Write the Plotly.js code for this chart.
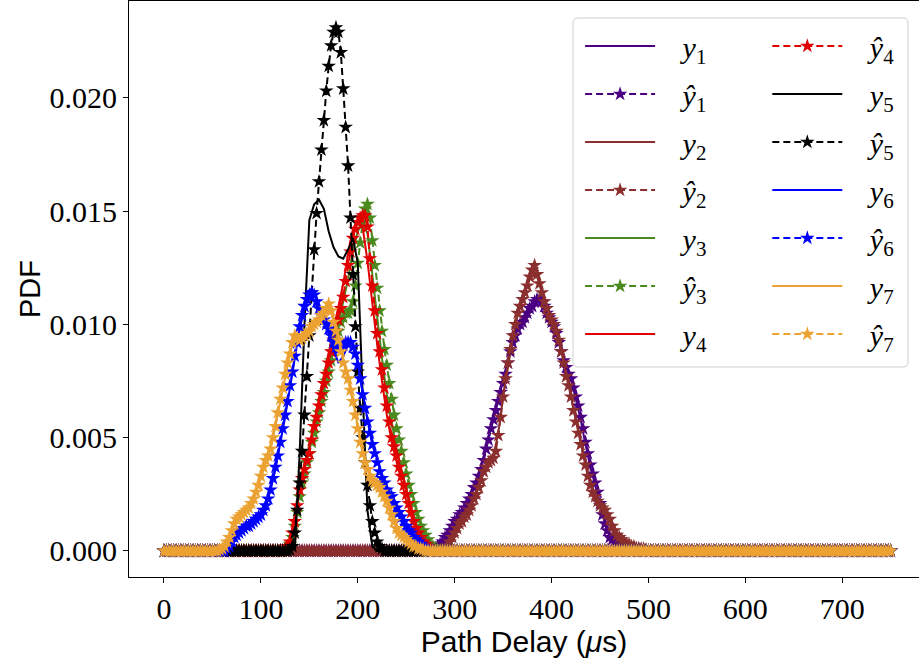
<!DOCTYPE html>
<html>
<head>
<meta charset="utf-8">
<script src="https://cdn.plot.ly/plotly-3.0.1.min.js"></script>
<style>html,body{margin:0;padding:0;background:#fff;}#chart{width:919px;height:659px;}</style>
</head>
<body>
<div id="chart"></div>
<script>
// Path delay grid (µs) for the measured densities
const xGrid = [
  0,5,10,15,20,25,30,35,40,45,
  50,55,60,65,70,75,80,85,90,95,
  100,105,110,115,120,125,130,135,140,145,
  150,155,160,165,170,175,180,185,190,195,
  200,205,210,215,220,225,230,235,240,245,
  250,255,260,265,270,275,280,285,290,295,
  300,305,310,315,320,325,330,335,340,345,
  350,355,360,365,370,375,380,385,390,395,
  400,405,410,415,420,425,430,435,440,445,
  450,455,460,465,470,475,480,485,490,495,
  500,505,510,515,520,525,530,535,540,545,
  550,555,560,565,570,575,580,585,590,595,
  600,605,610,615,620,625,630,635,640,645,
  650,655,660,665,670,675,680,685,690,695,
  700,705,710,715,720,725,730,735,740,745,
  750
];
// Finer path delay grid (µs) for the predicted densities
const xFine = [
  0,2.5,5,7.5,10,12.5,15,17.5,20,22.5,25,27.5,30,32.5,35,37.5,40,42.5,45,47.5,
  50,52.5,55,57.5,60,62.5,65,67.5,70,72.5,75,77.5,80,82.5,85,87.5,90,92.5,95,97.5,
  100,102.5,105,107.5,110,112.5,115,117.5,120,122.5,125,127.5,130,132.5,135,137.5,140,142.5,145,147.5,
  150,152.5,155,157.5,160,162.5,165,167.5,170,172.5,175,177.5,180,182.5,185,187.5,190,192.5,195,197.5,
  200,202.5,205,207.5,210,212.5,215,217.5,220,222.5,225,227.5,230,232.5,235,237.5,240,242.5,245,247.5,
  250,252.5,255,257.5,260,262.5,265,267.5,270,272.5,275,277.5,280,282.5,285,287.5,290,292.5,295,297.5,
  300,302.5,305,307.5,310,312.5,315,317.5,320,322.5,325,327.5,330,332.5,335,337.5,340,342.5,345,347.5,
  350,352.5,355,357.5,360,362.5,365,367.5,370,372.5,375,377.5,380,382.5,385,387.5,390,392.5,395,397.5,
  400,402.5,405,407.5,410,412.5,415,417.5,420,422.5,425,427.5,430,432.5,435,437.5,440,442.5,445,447.5,
  450,452.5,455,457.5,460,462.5,465,467.5,470,472.5,475,477.5,480,482.5,485,487.5,490,492.5,495,497.5,
  500,502.5,505,507.5,510,512.5,515,517.5,520,522.5,525,527.5,530,532.5,535,537.5,540,542.5,545,547.5,
  550,552.5,555,557.5,560,562.5,565,567.5,570,572.5,575,577.5,580,582.5,585,587.5,590,592.5,595,597.5,
  600,602.5,605,607.5,610,612.5,615,617.5,620,622.5,625,627.5,630,632.5,635,637.5,640,642.5,645,647.5,
  650,652.5,655,657.5,660,662.5,665,667.5,670,672.5,675,677.5,680,682.5,685,687.5,690,692.5,695,697.5,
  700,702.5,705,707.5,710,712.5,715,717.5,720,722.5,725,727.5,730,732.5,735,737.5,740,742.5,745,747.5,
  750
];

// Measured densities y1..y7 (on xGrid)
const y1 = [
  0,0,0,0,0,0,0,0,0,0,
  0,0,0,0,0,0,0,0,0,0,
  0,0,0,0,0,0,0,0,0,0,
  0,0,0,0,0,0,0,0,0,0,
  0,0,0,0,0,0,0,0,0,0,
  0,0,0,0,0,0,0.0001,0.0003,0.0006,0.0009,
  0.0012,0.0016,0.0019,0.0023,0.0028,0.0034,0.0041,0.005,0.0059,0.0067,
  0.0075,0.0084,0.0092,0.0098,0.0102,0.0106,0.0109,0.011,0.0109,0.0104,
  0.01,0.0095,0.0088,0.0082,0.0076,0.0067,0.0058,0.0047,0.0037,0.0029,
  0.002,0.0012,0.0007,0.0004,0.0003,0.0002,0.0001,0.0001,0,0,
  0,0,0,0,0,0,0,0,0,0,
  0,0,0,0,0,0,0,0,0,0,
  0,0,0,0,0,0,0,0,0,0,
  0,0,0,0,0,0,0,0,0,0,
  0,0,0,0,0,0,0,0,0,0,
  0
];
const y2 = [
  0,0,0,0,0,0,0,0,0,0,
  0,0,0,0,0,0,0,0,0,0,
  0,0,0,0,0,0,0,0,0,0,
  0,0,0,0,0,0,0,0,0,0,
  0,0,0,0,0,0,0,0,0,0,
  0,0,0,0,0,0,0,0,0.0001,0.0004,
  0.0008,0.0012,0.0015,0.0019,0.0024,0.0029,0.0035,0.0039,0.0042,0.0052,
  0.0068,0.0082,0.0094,0.0104,0.0111,0.0117,0.0123,0.0121,0.0114,0.0107,
  0.0102,0.0096,0.0088,0.0078,0.0068,0.0058,0.0047,0.0038,0.003,0.0024,
  0.002,0.0017,0.0013,0.0009,0.0006,0.0004,0.0003,0.0002,0.0001,0,
  0,0,0,0,0,0,0,0,0,0,
  0,0,0,0,0,0,0,0,0,0,
  0,0,0,0,0,0,0,0,0,0,
  0,0,0,0,0,0,0,0,0,0,
  0,0,0,0,0,0,0,0,0,0,
  0
];
const y3 = [
  0,0,0,0,0,0,0,0,0,0,
  0,0,0,0,0,0,0,0,0,0,
  0,0,0,0,0,0.0001,0.0004,0.0013,0.0026,0.0036,
  0.0044,0.0054,0.0063,0.0072,0.0081,0.0091,0.01,0.011,0.012,0.0132,
  0.0141,0.0145,0.014,0.0122,0.0102,0.0085,0.0069,0.0056,0.0045,0.0036,
  0.0027,0.0019,0.0012,0.0007,0.0004,0.0002,0.0001,0,0,0,
  0,0,0,0,0,0,0,0,0,0,
  0,0,0,0,0,0,0,0,0,0,
  0,0,0,0,0,0,0,0,0,0,
  0,0,0,0,0,0,0,0,0,0,
  0,0,0,0,0,0,0,0,0,0,
  0,0,0,0,0,0,0,0,0,0,
  0,0,0,0,0,0,0,0,0,0,
  0,0,0,0,0,0,0,0,0,0,
  0,0,0,0,0,0,0,0,0,0,
  0
];
const y4 = [
  0,0,0,0,0,0,0,0,0,0,
  0,0,0,0,0,0,0,0,0,0,
  0,0,0,0,0,0.0001,0.0005,0.0015,0.0028,0.0038,
  0.0046,0.0057,0.0067,0.0077,0.0087,0.0097,0.0107,0.0118,0.0131,0.0142,
  0.0146,0.0143,0.0128,0.0108,0.0091,0.0075,0.006,0.0048,0.004,0.0031,
  0.0022,0.0015,0.0009,0.0005,0.0002,0.0001,0,0,0,0,
  0,0,0,0,0,0,0,0,0,0,
  0,0,0,0,0,0,0,0,0,0,
  0,0,0,0,0,0,0,0,0,0,
  0,0,0,0,0,0,0,0,0,0,
  0,0,0,0,0,0,0,0,0,0,
  0,0,0,0,0,0,0,0,0,0,
  0,0,0,0,0,0,0,0,0,0,
  0,0,0,0,0,0,0,0,0,0,
  0,0,0,0,0,0,0,0,0,0,
  0
];
const y5 = [
  0,0,0,0,0,0,0,0,0,0,
  0,0,0,0,0,0,0,0,0,0,
  0,0,0,0,0,0,0,0.0001,0.0043,0.01,
  0.0146,0.0153,0.0155,0.0151,0.0141,0.0134,0.013,0.0129,0.0133,0.0138,
  0.0127,0.007,0.0018,0.0002,0,0,0,0,0,0,
  0,0,0,0,0,0,0,0,0,0,
  0,0,0,0,0,0,0,0,0,0,
  0,0,0,0,0,0,0,0,0,0,
  0,0,0,0,0,0,0,0,0,0,
  0,0,0,0,0,0,0,0,0,0,
  0,0,0,0,0,0,0,0,0,0,
  0,0,0,0,0,0,0,0,0,0,
  0,0,0,0,0,0,0,0,0,0,
  0,0,0,0,0,0,0,0,0,0,
  0,0,0,0,0,0,0,0,0,0,
  0
];
const y6 = [
  0,0,0,0,0,0,0,0,0,0,
  0,0,0,0.0001,0.0003,0.0006,0.0009,0.0011,0.0012,0.0014,
  0.0016,0.002,0.0027,0.0036,0.0047,0.0059,0.0072,0.0085,0.0098,0.0107,
  0.0112,0.0111,0.0106,0.0101,0.0096,0.0089,0.0083,0.0086,0.0091,0.009,
  0.0083,0.007,0.0058,0.0048,0.004,0.0033,0.0028,0.0024,0.0019,0.0015,
  0.0011,0.0007,0.0004,0.0002,0.0001,0,0,0,0,0,
  0,0,0,0,0,0,0,0,0,0,
  0,0,0,0,0,0,0,0,0,0,
  0,0,0,0,0,0,0,0,0,0,
  0,0,0,0,0,0,0,0,0,0,
  0,0,0,0,0,0,0,0,0,0,
  0,0,0,0,0,0,0,0,0,0,
  0,0,0,0,0,0,0,0,0,0,
  0,0,0,0,0,0,0,0,0,0,
  0,0,0,0,0,0,0,0,0,0,
  0
];
const y7 = [
  0,0,0,0,0,0,0,0,0,0,
  0,0,0.0001,0.0004,0.0009,0.0013,0.0016,0.0018,0.0021,0.0026,
  0.0032,0.0039,0.0045,0.0055,0.0066,0.0077,0.0087,0.0094,0.0094,0.0095,
  0.0097,0.0099,0.0102,0.0105,0.0108,0.0102,0.0093,0.0084,0.0076,0.0066,
  0.0055,0.0044,0.0036,0.0031,0.0028,0.0025,0.0021,0.0015,0.001,0.0007,
  0.0004,0.0003,0.0002,0.0001,0,0,0,0,0,0,
  0,0,0,0,0,0,0,0,0,0,
  0,0,0,0,0,0,0,0,0,0,
  0,0,0,0,0,0,0,0,0,0,
  0,0,0,0,0,0,0,0,0,0,
  0,0,0,0,0,0,0,0,0,0,
  0,0,0,0,0,0,0,0,0,0,
  0,0,0,0,0,0,0,0,0,0,
  0,0,0,0,0,0,0,0,0,0,
  0,0,0,0,0,0,0,0,0,0,
  0
];

// Predicted densities yhat1..yhat7 (on xFine)
const yhat1 = [
  0,0,0,0,0,0,0,0,0,0,0,0,0,0,0,0,0,0,0,0,
  0,0,0,0,0,0,0,0,0,0,0,0,0,0,0,0,0,0,0,0,
  0,0,0,0,0,0,0,0,0,0,0,0,0,0,0,0,0,0,0,0,
  0,0,0,0,0,0,0,0,0,0,0,0,0,0,0,0,0,0,0,0,
  0,0,0,0,0,0,0,0,0,0,0,0,0,0,0,0,0,0,0,0,
  0,0,0,0,0,0,0,0,0,0,0.00005,0.0001,0.0001,0.0002,0.0003,0.0004,0.0006,0.0007,0.0009,0.0011,
  0.0013,0.0014,0.0016,0.0017,0.0019,0.0021,0.0023,0.0025,0.0028,0.003,0.0033,0.0036,0.004,0.0045,0.0049,0.0054,0.0058,0.0062,0.0066,0.007,
  0.0074,0.0078,0.0083,0.0088,0.0092,0.0095,0.0098,0.01,0.0101,0.0103,0.0105,0.0107,0.0108,0.011,0.0111,0.0111,0.011,0.0108,0.0105,0.0103,
  0.0101,0.0099,0.0096,0.0092,0.0088,0.0084,0.0081,0.0078,0.0076,0.0072,0.0068,0.0064,0.0059,0.0054,0.0048,0.0043,0.0038,0.0034,0.003,0.0026,
  0.0021,0.0016,0.0012,0.0009,0.0006,0.0005,0.0004,0.0003,0.0003,0.0002,0.0002,0.0002,0.0002,0.0001,0.0001,0.0001,0.0001,0.00005,0,0,
  0,0,0,0,0,0,0,0,0,0,0,0,0,0,0,0,0,0,0,0,
  0,0,0,0,0,0,0,0,0,0,0,0,0,0,0,0,0,0,0,0,
  0,0,0,0,0,0,0,0,0,0,0,0,0,0,0,0,0,0,0,0,
  0,0,0,0,0,0,0,0,0,0,0,0,0,0,0,0,0,0,0,0,
  0,0,0,0,0,0,0,0,0,0,0,0,0,0,0,0,0,0,0,0,
  0
];
const yhat2 = [
  0,0,0,0,0,0,0,0,0,0,0,0,0,0,0,0,0,0,0,0,
  0,0,0,0,0,0,0,0,0,0,0,0,0,0,0,0,0,0,0,0,
  0,0,0,0,0,0,0,0,0,0,0,0,0,0,0,0,0,0,0,0,
  0,0,0,0,0,0,0,0,0,0,0,0,0,0,0,0,0,0,0,0,
  0,0,0,0,0,0,0,0,0,0,0,0,0,0,0,0,0,0,0,0,
  0,0,0,0,0,0,0,0,0,0,0,0,0,0,0,0.00005,0.0001,0.0002,0.0004,0.0006,
  0.0008,0.001,0.0012,0.0013,0.0015,0.0016,0.0018,0.002,0.0023,0.0025,0.0028,0.0031,0.0035,0.0037,0.0039,0.004,0.0041,0.0044,0.0051,0.0059,
  0.0068,0.0076,0.0083,0.0089,0.0095,0.01,0.0105,0.0108,0.0111,0.0114,0.0117,0.0121,0.0124,0.0126,0.0122,0.0118,0.0114,0.011,0.0107,0.0104,
  0.0102,0.01,0.0097,0.0093,0.0088,0.0083,0.0077,0.0073,0.0068,0.0062,0.0057,0.0052,0.0047,0.0042,0.0038,0.0033,0.0029,0.0026,0.0024,0.0022,
  0.002,0.0019,0.0018,0.0016,0.0014,0.0011,0.0009,0.0007,0.0006,0.0005,0.0004,0.0003,0.0003,0.0002,0.0002,0.0001,0.0001,0.0001,0.0001,0.00005,
  0,0,0,0,0,0,0,0,0,0,0,0,0,0,0,0,0,0,0,0,
  0,0,0,0,0,0,0,0,0,0,0,0,0,0,0,0,0,0,0,0,
  0,0,0,0,0,0,0,0,0,0,0,0,0,0,0,0,0,0,0,0,
  0,0,0,0,0,0,0,0,0,0,0,0,0,0,0,0,0,0,0,0,
  0,0,0,0,0,0,0,0,0,0,0,0,0,0,0,0,0,0,0,0,
  0
];
const yhat3 = [
  0,0,0,0,0,0,0,0,0,0,0,0,0,0,0,0,0,0,0,0,
  0,0,0,0,0,0,0,0,0,0,0,0,0,0,0,0,0,0,0,0,
  0,0,0,0,0,0,0,0,0,0,0.0001,0.0002,0.0003,0.0006,0.0011,0.0017,0.0024,0.003,0.0034,0.0039,
  0.0043,0.0048,0.0052,0.0057,0.0061,0.0066,0.007,0.0075,0.0079,0.0084,0.0088,0.0093,0.0097,0.0101,0.0103,0.0105,0.0105,0.0106,0.011,0.0117,
  0.0127,0.0136,0.0145,0.0151,0.0153,0.0147,0.0137,0.0126,0.0116,0.0106,0.0097,0.0089,0.0082,0.0074,0.0067,0.006,0.0054,0.0049,0.0044,0.0039,
  0.0034,0.0029,0.0025,0.0021,0.0017,0.0014,0.0011,0.0009,0.0007,0.0005,0.0003,0.0002,0.0001,0.00005,0,0,0,0,0,0,
  0,0,0,0,0,0,0,0,0,0,0,0,0,0,0,0,0,0,0,0,
  0,0,0,0,0,0,0,0,0,0,0,0,0,0,0,0,0,0,0,0,
  0,0,0,0,0,0,0,0,0,0,0,0,0,0,0,0,0,0,0,0,
  0,0,0,0,0,0,0,0,0,0,0,0,0,0,0,0,0,0,0,0,
  0,0,0,0,0,0,0,0,0,0,0,0,0,0,0,0,0,0,0,0,
  0,0,0,0,0,0,0,0,0,0,0,0,0,0,0,0,0,0,0,0,
  0,0,0,0,0,0,0,0,0,0,0,0,0,0,0,0,0,0,0,0,
  0,0,0,0,0,0,0,0,0,0,0,0,0,0,0,0,0,0,0,0,
  0,0,0,0,0,0,0,0,0,0,0,0,0,0,0,0,0,0,0,0,
  0
];
const yhat4 = [
  0,0,0,0,0,0,0,0,0,0,0,0,0,0,0,0,0,0,0,0,
  0,0,0,0,0,0,0,0,0,0,0,0,0,0,0,0,0,0,0,0,
  0,0,0,0,0,0,0,0,0,0,0.0001,0.0002,0.0004,0.0008,0.0013,0.002,0.0027,0.0032,0.0036,0.004,
  0.0043,0.0049,0.0055,0.0059,0.0064,0.0069,0.0074,0.0078,0.0083,0.0088,0.0093,0.0097,0.0102,0.0107,0.0112,0.0119,0.0126,0.0132,0.0138,0.0142,
  0.0145,0.0147,0.0148,0.0148,0.0143,0.0129,0.0117,0.0106,0.0096,0.0088,0.008,0.0072,0.0064,0.0057,0.005,0.0046,0.0042,0.0037,0.0033,0.0029,
  0.0025,0.0021,0.0017,0.0013,0.001,0.0008,0.0006,0.0004,0.0003,0.0002,0.0001,0.00005,0,0,0,0,0,0,0,0,
  0,0,0,0,0,0,0,0,0,0,0,0,0,0,0,0,0,0,0,0,
  0,0,0,0,0,0,0,0,0,0,0,0,0,0,0,0,0,0,0,0,
  0,0,0,0,0,0,0,0,0,0,0,0,0,0,0,0,0,0,0,0,
  0,0,0,0,0,0,0,0,0,0,0,0,0,0,0,0,0,0,0,0,
  0,0,0,0,0,0,0,0,0,0,0,0,0,0,0,0,0,0,0,0,
  0,0,0,0,0,0,0,0,0,0,0,0,0,0,0,0,0,0,0,0,
  0,0,0,0,0,0,0,0,0,0,0,0,0,0,0,0,0,0,0,0,
  0,0,0,0,0,0,0,0,0,0,0,0,0,0,0,0,0,0,0,0,
  0,0,0,0,0,0,0,0,0,0,0,0,0,0,0,0,0,0,0,0,
  0
];
const yhat5 = [
  0,0,0,0,0,0,0,0,0,0,0,0,0,0,0,0,0,0,0,0,
  0,0,0,0,0,0,0,0,0,0,0,0,0,0,0,0,0,0,0,0,
  0,0,0,0,0,0,0,0,0,0,0,0,0.00005,0.0002,0.0008,0.0018,0.003,0.0044,0.006,0.0077,
  0.0095,0.0114,0.0133,0.0149,0.0163,0.0177,0.019,0.0203,0.0214,0.0223,0.0229,0.0231,0.0229,0.022,0.0204,0.0187,0.017,0.0147,0.0122,0.0099,
  0.0079,0.0063,0.005,0.0039,0.0029,0.002,0.0013,0.0008,0.0004,0.0002,0.0001,0,0,0,0,0,0,0,0,0,
  0,0,0,0,0,0,0,0,0,0,0,0,0,0,0,0,0,0,0,0,
  0,0,0,0,0,0,0,0,0,0,0,0,0,0,0,0,0,0,0,0,
  0,0,0,0,0,0,0,0,0,0,0,0,0,0,0,0,0,0,0,0,
  0,0,0,0,0,0,0,0,0,0,0,0,0,0,0,0,0,0,0,0,
  0,0,0,0,0,0,0,0,0,0,0,0,0,0,0,0,0,0,0,0,
  0,0,0,0,0,0,0,0,0,0,0,0,0,0,0,0,0,0,0,0,
  0,0,0,0,0,0,0,0,0,0,0,0,0,0,0,0,0,0,0,0,
  0,0,0,0,0,0,0,0,0,0,0,0,0,0,0,0,0,0,0,0,
  0,0,0,0,0,0,0,0,0,0,0,0,0,0,0,0,0,0,0,0,
  0,0,0,0,0,0,0,0,0,0,0,0,0,0,0,0,0,0,0,0,
  0
];
const yhat6 = [
  0,0,0,0,0,0,0,0,0,0,0,0,0,0,0,0,0,0,0,0,
  0,0,0,0,0,0,0.0001,0.0002,0.0004,0.0006,0.0007,0.0008,0.0009,0.001,0.0011,0.0011,0.0012,0.0013,0.0014,0.0015,
  0.0016,0.0018,0.002,0.0023,0.0027,0.0032,0.0037,0.0042,0.0048,0.0054,0.006,0.0066,0.0073,0.0079,0.0086,0.0092,0.0099,0.0104,0.0108,0.0111,
  0.0113,0.0114,0.0113,0.011,0.0107,0.0104,0.0102,0.01,0.0098,0.0095,0.0092,0.009,0.0089,0.009,0.0091,0.0092,0.0092,0.0092,0.009,0.0087,
  0.0082,0.0076,0.0069,0.0063,0.0057,0.0052,0.0047,0.0043,0.0039,0.0035,0.0032,0.003,0.0027,0.0025,0.0024,0.0021,0.0019,0.0017,0.0015,0.0013,
  0.0011,0.0009,0.0008,0.0006,0.0005,0.0004,0.0003,0.0002,0.0001,0.00005,0,0,0,0,0,0,0,0,0,0,
  0,0,0,0,0,0,0,0,0,0,0,0,0,0,0,0,0,0,0,0,
  0,0,0,0,0,0,0,0,0,0,0,0,0,0,0,0,0,0,0,0,
  0,0,0,0,0,0,0,0,0,0,0,0,0,0,0,0,0,0,0,0,
  0,0,0,0,0,0,0,0,0,0,0,0,0,0,0,0,0,0,0,0,
  0,0,0,0,0,0,0,0,0,0,0,0,0,0,0,0,0,0,0,0,
  0,0,0,0,0,0,0,0,0,0,0,0,0,0,0,0,0,0,0,0,
  0,0,0,0,0,0,0,0,0,0,0,0,0,0,0,0,0,0,0,0,
  0,0,0,0,0,0,0,0,0,0,0,0,0,0,0,0,0,0,0,0,
  0,0,0,0,0,0,0,0,0,0,0,0,0,0,0,0,0,0,0,0,
  0
];
const yhat7 = [
  0,0,0,0,0,0,0,0,0,0,0,0,0,0,0,0,0,0,0,0,
  0,0,0,0.00005,0.0001,0.0002,0.0004,0.0006,0.0009,0.0012,0.0014,0.0015,0.0016,0.0017,0.0018,0.0019,0.0021,0.0023,0.0026,0.0029,
  0.0033,0.0037,0.004,0.0042,0.0045,0.005,0.0055,0.0061,0.0067,0.0072,0.0078,0.0083,0.0087,0.0092,0.0095,0.0094,0.0093,0.0094,0.0095,0.0096,
  0.0097,0.0099,0.01,0.0101,0.0102,0.0104,0.0105,0.0107,0.0109,0.0106,0.0101,0.0097,0.0093,0.0088,0.0083,0.0079,0.0076,0.0071,0.0066,0.006,
  0.0054,0.0048,0.0043,0.0039,0.0036,0.0033,0.0031,0.003,0.0029,0.0028,0.0026,0.0024,0.0022,0.0019,0.0016,0.0013,0.001,0.0008,0.0007,0.0006,
  0.0005,0.0004,0.0003,0.0002,0.0002,0.0001,0.0001,0.00005,0,0,0,0,0,0,0,0,0,0,0,0,
  0,0,0,0,0,0,0,0,0,0,0,0,0,0,0,0,0,0,0,0,
  0,0,0,0,0,0,0,0,0,0,0,0,0,0,0,0,0,0,0,0,
  0,0,0,0,0,0,0,0,0,0,0,0,0,0,0,0,0,0,0,0,
  0,0,0,0,0,0,0,0,0,0,0,0,0,0,0,0,0,0,0,0,
  0,0,0,0,0,0,0,0,0,0,0,0,0,0,0,0,0,0,0,0,
  0,0,0,0,0,0,0,0,0,0,0,0,0,0,0,0,0,0,0,0,
  0,0,0,0,0,0,0,0,0,0,0,0,0,0,0,0,0,0,0,0,
  0,0,0,0,0,0,0,0,0,0,0,0,0,0,0,0,0,0,0,0,
  0,0,0,0,0,0,0,0,0,0,0,0,0,0,0,0,0,0,0,0,
  0
];

const SP = '\u00a0\u00a0\u00a0';
const seriesNames = [
  SP + '<i>y</i><sub>1</sub>', SP + '<i>ŷ</i><sub>1</sub>',
  SP + '<i>y</i><sub>2</sub>', SP + '<i>ŷ</i><sub>2</sub>',
  SP + '<i>y</i><sub>3</sub>', SP + '<i>ŷ</i><sub>3</sub>',
  SP + '<i>y</i><sub>4</sub>', SP + '<i>ŷ</i><sub>4</sub>',
  SP + '<i>y</i><sub>5</sub>', SP + '<i>ŷ</i><sub>5</sub>',
  SP + '<i>y</i><sub>6</sub>', SP + '<i>ŷ</i><sub>6</sub>',
  SP + '<i>y</i><sub>7</sub>', SP + '<i>ŷ</i><sub>7</sub>'
];
const seriesValues = [y1, yhat1, y2, yhat2, y3, yhat3, y4, yhat4, y5, yhat5, y6, yhat6, y7, yhat7];
const seriesColors = ['#4b0082', '#8b2e2e', '#4a8a1e', '#e00000', '#000000', '#0000ff', '#eba232'];

const traces = seriesValues.map((vals, i) => {
  const pred = i % 2 === 1;
  const color = seriesColors[Math.floor(i / 2)];
  const t = {
    type: 'scatter',
    x: pred ? xFine : xGrid,
    y: vals,
    name: seriesNames[i],
    legend: i < 7 ? 'legend' : 'legend2',
    legendgroup: 'g' + i,
    mode: pred ? 'lines+markers' : 'lines',
    line: {color: color, width: 2, dash: pred ? '7px,4px' : 'solid'},
    hoverinfo: 'skip'
  };
  if (pred) t.marker = {symbol: 'star', size: 11, color: color, line: {width: 0}};
  return t;
});

const legendFont = {family: 'Liberation Serif', size: 30, color: '#000'};
const layout = {
  width: 919,
  height: 659,
  margin: {l: 129, r: 0, t: 1, b: 82, pad: 0},
  paper_bgcolor: '#fff',
  plot_bgcolor: '#fff',
  showlegend: true,
  xaxis: {
    range: [-36.1, 779.2],
    tick0: 0, dtick: 100,
    showgrid: false, zeroline: false,
    showline: true, mirror: true, linecolor: '#000', linewidth: 1,
    ticks: 'outside', ticklen: 5, tickwidth: 1, tickcolor: '#000',
    tickfont: {family: 'Liberation Serif', size: 30, color: '#000'},
    title: {text: 'Path Delay (<i>μ</i>s)', font: {family: 'Liberation Sans', size: 30, color: '#000'}, standoff: 0},
    automargin: false
  },
  yaxis: {
    range: [-0.00115, 0.02427],
    tick0: 0, dtick: 0.005, tickformat: '.3f',
    showgrid: false, zeroline: false,
    showline: true, mirror: false, linecolor: '#000', linewidth: 1,
    ticks: 'outside', ticklen: 5, tickwidth: 1, tickcolor: '#000',
    tickfont: {family: 'Liberation Serif', size: 30, color: '#000'},
    title: {text: 'PDF', font: {family: 'Liberation Sans', size: 29, color: '#000'}, standoff: 0},
    automargin: false
  },
  legend: {
    x: 0.571, y: 0.967, xanchor: 'left', yanchor: 'top',
    bgcolor: 'rgba(0,0,0,0)', borderwidth: 0,
    font: legendFont, itemwidth: 70, tracegroupgap: 6, traceorder: 'grouped', itemsizing: 'trace'
  },
  legend2: {
    x: 0.808, y: 0.967, xanchor: 'left', yanchor: 'top',
    bgcolor: 'rgba(0,0,0,0)', borderwidth: 0,
    font: legendFont, itemwidth: 70, tracegroupgap: 6, traceorder: 'grouped', itemsizing: 'trace'
  },
  shapes: [{
    type: 'path', xref: 'paper', yref: 'paper', layer: 'above',
    path: 'M 0.5683 0.9705 L 0.9797 0.9705 Q 0.9860 0.9705 0.9860 0.9618 L 0.9860 0.3733 Q 0.9860 0.3646 0.9797 0.3646 L 0.5683 0.3646 Q 0.5620 0.3646 0.5620 0.3733 L 0.5620 0.9618 Q 0.5620 0.9705 0.5683 0.9705 Z',
    fillcolor: 'rgba(255,255,255,0.85)',
    line: {color: '#d0d0d0', width: 1}
  }]
};

Plotly.newPlot('chart', traces, layout, {staticPlot: true, displayModeBar: false});
</script>
</body>
</html>
